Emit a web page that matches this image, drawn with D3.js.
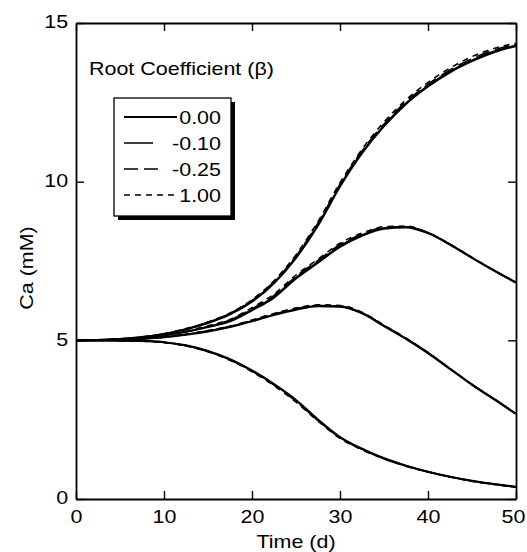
<!DOCTYPE html>
<html>
<head>
<meta charset="utf-8">
<title>Ca (mM) over time</title>
<script src="https://d3js.org/d3.v7.min.js"></script>
<style>
body { margin: 0; background: #fff; }
text { font-family: Arial, "Liberation Sans", Helvetica, sans-serif; fill: #000; }
</style>
</head>
<body>
<div id="chart"></div>
<script>
// time axis (days), shared by every series
var days = [0, 2.5, 5, 7.5, 10, 12.5, 15, 17.5, 20, 22.5, 25, 27.5, 30, 32.5, 35, 37.5, 40, 42.5, 45, 47.5, 50];

// legend entries (root coefficient beta)
var betas = ["0.00", "-0.10", "-0.25", "1.00"];

// top curve (keeps rising)
var riseB000 = [5.00, 5.01, 5.04, 5.10, 5.20, 5.35, 5.55, 5.82, 6.22, 6.80, 7.60, 8.62, 9.85, 10.90, 11.75, 12.45, 13.00, 13.45, 13.80, 14.08, 14.28];
var riseB010 = [5.00, 5.01, 5.04, 5.10, 5.20, 5.35, 5.56, 5.83, 6.24, 6.82, 7.62, 8.65, 9.88, 10.93, 11.78, 12.48, 13.03, 13.48, 13.83, 14.11, 14.30];
var riseB025 = [5.00, 5.01, 5.04, 5.10, 5.21, 5.36, 5.57, 5.85, 6.26, 6.85, 7.66, 8.70, 9.92, 10.97, 11.82, 12.52, 13.07, 13.52, 13.88, 14.15, 14.33];
var riseB100 = [5.00, 5.01, 5.05, 5.11, 5.21, 5.37, 5.58, 5.86, 6.28, 6.88, 7.70, 8.75, 9.97, 11.02, 11.88, 12.58, 13.13, 13.58, 13.94, 14.20, 14.36];

// second curve (peak near day 36)
var peakLateB000 = [5.00, 5.01, 5.03, 5.08, 5.16, 5.27, 5.42, 5.60, 5.95, 6.35, 6.95, 7.45, 7.95, 8.30, 8.52, 8.56, 8.38, 8.02, 7.60, 7.20, 6.82];
var peakLateB010 = [5.00, 5.01, 5.03, 5.08, 5.16, 5.27, 5.43, 5.62, 5.97, 6.38, 6.98, 7.48, 7.98, 8.32, 8.54, 8.57, 8.38, 8.02, 7.60, 7.20, 6.82];
var peakLateB025 = [5.00, 5.01, 5.03, 5.08, 5.17, 5.28, 5.44, 5.64, 6.00, 6.42, 7.02, 7.52, 8.02, 8.35, 8.56, 8.58, 8.39, 8.03, 7.61, 7.20, 6.82];
var peakLateB100 = [5.00, 5.01, 5.04, 5.09, 5.17, 5.29, 5.46, 5.66, 6.03, 6.46, 7.06, 7.56, 8.06, 8.38, 8.58, 8.60, 8.40, 8.03, 7.61, 7.21, 6.83];

// third curve (peak near day 28)
var peakEarlyB000 = [5.00, 5.00, 5.02, 5.05, 5.10, 5.18, 5.28, 5.42, 5.60, 5.80, 5.97, 6.08, 6.06, 5.85, 5.45, 5.05, 4.60, 4.10, 3.60, 3.15, 2.68];
var peakEarlyB010 = [5.00, 5.00, 5.02, 5.05, 5.10, 5.18, 5.29, 5.43, 5.61, 5.81, 5.98, 6.09, 6.07, 5.86, 5.46, 5.05, 4.60, 4.10, 3.60, 3.15, 2.68];
var peakEarlyB025 = [5.00, 5.00, 5.02, 5.05, 5.11, 5.19, 5.30, 5.44, 5.62, 5.83, 6.00, 6.10, 6.08, 5.87, 5.47, 5.06, 4.61, 4.11, 3.61, 3.15, 2.68];
var peakEarlyB100 = [5.00, 5.00, 5.02, 5.06, 5.11, 5.19, 5.31, 5.45, 5.64, 5.85, 6.02, 6.12, 6.10, 5.89, 5.48, 5.07, 4.62, 4.11, 3.61, 3.16, 2.69];

// bottom curve (falls off)
var fallB000 = [5.00, 5.00, 4.99, 4.98, 4.94, 4.84, 4.66, 4.40, 4.05, 3.62, 3.12, 2.50, 1.95, 1.58, 1.28, 1.05, 0.86, 0.70, 0.57, 0.47, 0.38];
var fallB010 = [5.00, 5.00, 4.99, 4.98, 4.94, 4.84, 4.66, 4.40, 4.04, 3.61, 3.10, 2.49, 1.94, 1.57, 1.28, 1.05, 0.86, 0.70, 0.57, 0.47, 0.38];
var fallB025 = [5.00, 5.00, 4.99, 4.98, 4.93, 4.83, 4.65, 4.39, 4.03, 3.59, 3.08, 2.47, 1.93, 1.56, 1.27, 1.04, 0.85, 0.70, 0.57, 0.47, 0.38];
var fallB100 = [5.00, 5.00, 4.99, 4.97, 4.93, 4.82, 4.64, 4.37, 4.01, 3.57, 3.05, 2.45, 1.91, 1.55, 1.26, 1.03, 0.85, 0.69, 0.56, 0.46, 0.37];

var xTicks = [0, 10, 20, 30, 40, 50];
var yTicks = [0, 5, 10, 15];

// ---- drawing ----
var width = 527, height = 552;
var margin = { left: 76, right: 11, top: 23, bottom: 53 };
var fs = "19px";
var stretch = "scale(1.13,1)";   // text in the original is set wide

var svg = d3.select("#chart").append("svg")
    .attr("width", width)
    .attr("height", height);

var x = d3.scaleLinear().domain([0, 50]).range([margin.left, width - margin.right]);
var y = d3.scaleLinear().domain([0, 15]).range([height - margin.bottom, margin.top]);

// line styles per beta
var styles = [
    { w: 2.2, dash: null },
    { w: 1.5, dash: null },
    { w: 1.5, dash: "14,6" },
    { w: 1.5, dash: "6,5" }
];

var groups = [
    [riseB000, riseB010, riseB025, riseB100],
    [peakLateB000, peakLateB010, peakLateB025, peakLateB100],
    [peakEarlyB000, peakEarlyB010, peakEarlyB025, peakEarlyB100],
    [fallB000, fallB010, fallB025, fallB100]
];

var line = d3.line()
    .x(function(d, i) { return x(days[i]); })
    .y(function(d) { return y(d); })
    .curve(d3.curveMonotoneX);

var plot = svg.append("g");
groups.forEach(function(g) {
    // draw in reverse so the thick solid line ends up on top
    for (var k = g.length - 1; k >= 0; k--) {
        plot.append("path")
            .attr("d", line(g[k]))
            .attr("fill", "none")
            .attr("stroke", "#000")
            .attr("stroke-width", styles[k].w)
            .attr("stroke-dasharray", styles[k].dash);
    }
});

// axes: ticks inward on all four sides
var tick = 8;
var bottomAx = svg.append("g")
    .attr("transform", "translate(0," + y(0) + ")")
    .call(d3.axisBottom(x).tickValues(xTicks).tickSizeInner(-tick).tickSizeOuter(0).tickPadding(11));
var topAx = svg.append("g")
    .attr("transform", "translate(0," + y(15) + ")")
    .call(d3.axisTop(x).tickValues(xTicks).tickSizeInner(-tick).tickSizeOuter(0).tickFormat(""));
var leftAx = svg.append("g")
    .attr("transform", "translate(" + x(0) + ",0)")
    .call(d3.axisLeft(y).tickValues(yTicks).tickSizeInner(-tick).tickSizeOuter(0).tickPadding(7));
var rightAx = svg.append("g")
    .attr("transform", "translate(" + x(50) + ",0)")
    .call(d3.axisRight(y).tickValues(yTicks).tickSizeInner(-tick).tickSizeOuter(0).tickFormat(""));

[bottomAx, topAx, leftAx, rightAx].forEach(function(a) {
    a.select(".domain").attr("stroke", "#000").attr("stroke-width", 1.8);
    a.selectAll(".tick line").attr("stroke", "#000").attr("stroke-width", 1.4);
    a.selectAll(".tick text")
        .style("font-size", fs)
        .style("font-family", "Arial, 'Liberation Sans', Helvetica, sans-serif")
        .attr("fill", "#000")
        .attr("transform", stretch);
});
leftAx.selectAll(".tick text").attr("dy", "0.25em");
// last x label sits against the right edge, nudge it in a little
bottomAx.selectAll(".tick text")
    .filter(function(d) { return d === 50; })
    .attr("transform", "translate(-3,0) " + stretch);

// axis titles
svg.append("text")
    .attr("transform", "translate(" + (x(0) + x(50)) / 2 + ",548) " + stretch)
    .attr("text-anchor", "middle")
    .style("font-size", fs)
    .text("Time (d)");

svg.append("text")
    .attr("transform", "translate(33,268) rotate(-90) " + stretch)
    .attr("text-anchor", "middle")
    .style("font-size", fs)
    .text("Ca (mM)");

// legend
svg.append("text")
    .attr("transform", "translate(89,75) " + stretch)
    .style("font-size", fs)
    .text("Root Coefficient (\u03b2)");

var lg = svg.append("g");
lg.append("rect")
    .attr("x", 118).attr("y", 102).attr("width", 117).attr("height", 118)
    .attr("fill", "#000");
lg.append("rect")
    .attr("x", 114).attr("y", 98).attr("width", 117).attr("height", 118)
    .attr("fill", "#fff").attr("stroke", "#000").attr("stroke-width", 1.3);

var sampleEnd = [177, 153, 158, 174];
var rowY = d3.scalePoint().domain(betas).range([117, 195]);
betas.forEach(function(b, k) {
    lg.append("line")
        .attr("x1", 124).attr("x2", sampleEnd[k])
        .attr("y1", rowY(b)).attr("y2", rowY(b))
        .attr("stroke", "#000")
        .attr("stroke-width", styles[k].w)
        .attr("stroke-dasharray", styles[k].dash);
    lg.append("text")
        .attr("transform", "translate(221," + rowY(b) + ") " + stretch)
        .attr("dy", "0.36em")
        .attr("text-anchor", "end")
        .style("font-size", fs)
        .text(b);
});
</script>
</body>
</html>
